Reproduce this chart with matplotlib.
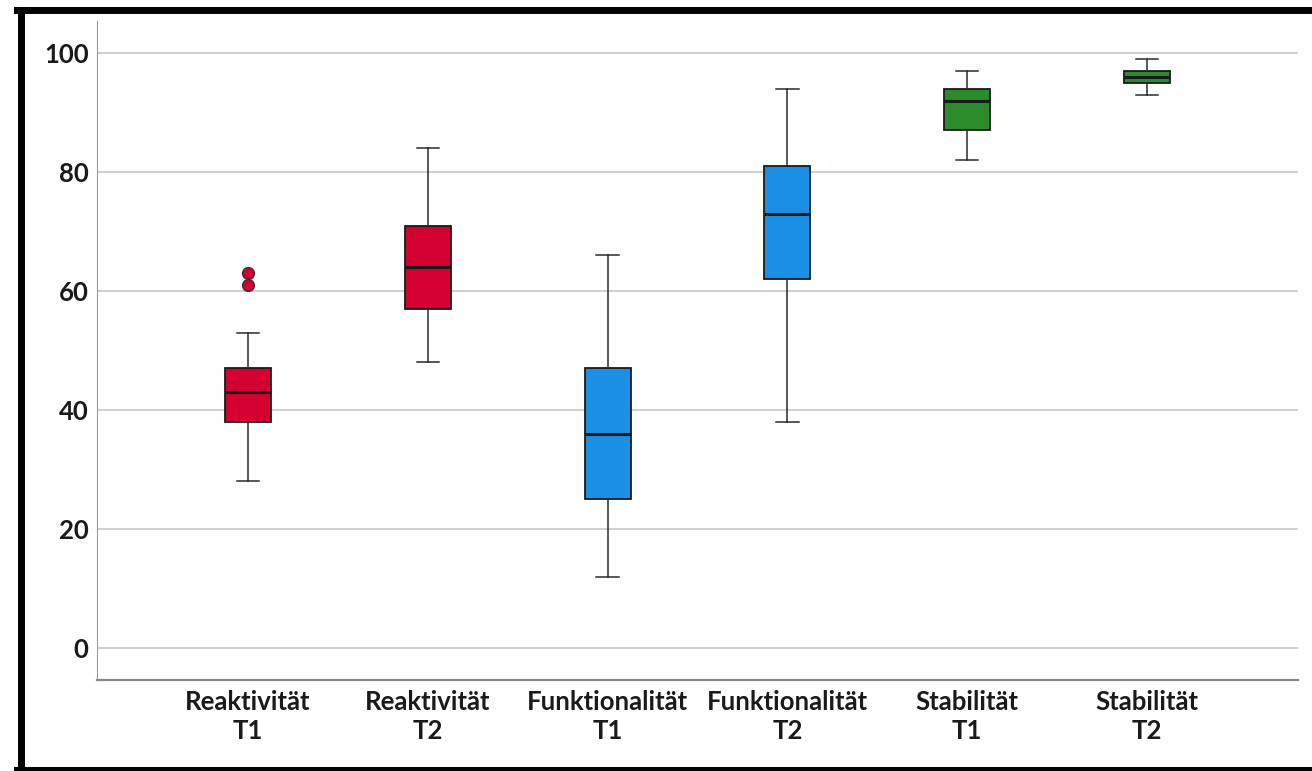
import numpy as np
import matplotlib
matplotlib.use("Agg")
import matplotlib.pyplot as plt
from matplotlib.lines import Line2D

# values (SPSS style boxplot)
labels = ["Reaktivität\nT1", "Reaktivität\nT2", "Funktionalität\nT1",
          "Funktionalität\nT2", "Stabilität\nT1", "Stabilität\nT2"]
whislo = [28, 48, 12, 38, 82, 93]
q1 = [38, 57, 25, 62, 87, 95]
med = [43, 64, 36, 73, 92, 96]
q3 = [47, 71, 47, 81, 94, 97]
whishi = [53, 84, 66, 94, 97, 99]
fliers = [[61, 63], [], [], [], [], []]
colors = ["#D40031", "#D40031", "#1A8FE3", "#1A8FE3", "#2B8A29", "#2B8A29"]

plt.rcParams['font.family'] = ['Lato', 'DejaVu Sans']

fig = plt.figure(figsize=(13.12, 7.71), dpi=100)
ax = fig.add_axes([97/1312, 1 - 680/771, (1298-97)/1312, (680-21)/771])

stats = []
for i in range(len(labels)):
    stats.append({'whislo': whislo[i], 'q1': q1[i], 'med': med[i], 'q3': q3[i],
                  'whishi': whishi[i], 'fliers': fliers[i], 'label': labels[i]})

bp = ax.bxp(stats, positions=np.arange(1, 7), widths=0.255, patch_artist=True,
            showfliers=True,
            boxprops=dict(edgecolor='#1a1a1a', linewidth=1.3),
            medianprops=dict(color='#1a1a1a', linewidth=2.2),
            whiskerprops=dict(color='#2a2a2a', linewidth=1.1),
            capprops=dict(color='#2a2a2a', linewidth=1.1),
            capwidths=0.125,
            flierprops=dict(marker='o', markersize=8.5, markeredgecolor='#333333',
                            markeredgewidth=1.0, linestyle='none'))
for patch, c in zip(bp['boxes'], colors):
    patch.set_facecolor(c)
for fl, c in zip(bp['fliers'], colors):
    fl.set_markerfacecolor(c)

ax.set_xlim(0.16, 6.84)
ax.set_ylim(-5.4, 105.4)
ax.set_yticks(range(0, 101, 20))
ax.yaxis.grid(True, color='#cccccc', linewidth=1.3)
ax.set_axisbelow(True)
ax.tick_params(axis='both', length=0, labelsize=18.5, colors='#1a1a1a')
ax.tick_params(axis='x', pad=7)
ax.tick_params(axis='y', pad=6)
for lab in ax.get_xticklabels() + ax.get_yticklabels():
    lab.set_fontweight('bold')
for lab in ax.get_xticklabels():
    lab.set_linespacing(1.28)

ax.spines['top'].set_visible(False)
ax.spines['right'].set_visible(False)
ax.spines['left'].set_color('#999999')
ax.spines['bottom'].set_color('#888888')
ax.spines['bottom'].set_linewidth(1.6)

# black frame round the chart (clipped at the right edge)
W, H = 1312, 771
fig.add_artist(Line2D([20.5/W, 20.5/W], [0, 1 - 9.5/H], color='black', lw=5.0,
                      transform=fig.transFigure))
fig.add_artist(Line2D([17/W, 1], [1 - 9.5/H, 1 - 9.5/H], color='black', lw=5.0,
                      transform=fig.transFigure))
fig.add_artist(Line2D([17/W, 1], [1.5/H, 1.5/H], color='black', lw=5.0,
                      transform=fig.transFigure))

plt.savefig("out.png", dpi=100)
